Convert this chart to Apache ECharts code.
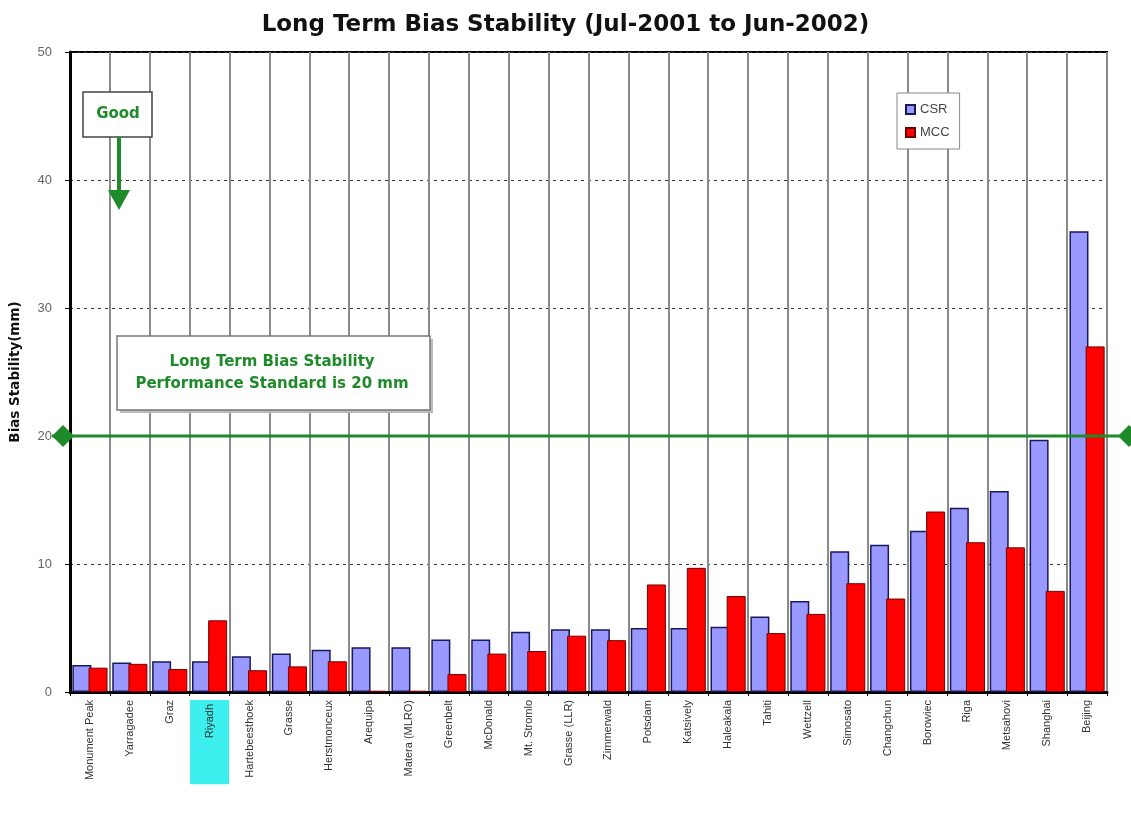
<!DOCTYPE html>
<html><head><meta charset="utf-8">
<script src="https://cdn.jsdelivr.net/npm/echarts@6/dist/echarts.min.js"></script>
<style>html,body{margin:0;padding:0;background:#fff}#c{width:1131px;height:818px}</style>
</head><body><div id="c"></div>
<script>
const categories = ['Monument Peak','Yarragadee','Graz','Riyadh','Hartebeesthoek','Grasse','Herstmonceux','Arequipa','Matera (MLRO)','Greenbelt','McDonald','Mt. Stromlo','Grasse (LLR)','Zimmerwald','Potsdam','Katsively','Haleakala','Tahiti','Wettzell','Simosato','Changchun','Borowiec','Riga','Metsahovi','Shanghai','Beijing'];
const csr = [2.1,2.3,2.4,2.4,2.8,3.0,3.3,3.5,3.5,4.1,4.1,4.7,4.9,4.9,5.0,5.0,5.1,5.9,7.1,11.0,11.5,12.6,14.4,15.7,19.7,36.0];
const mcc = [1.9,2.2,1.8,5.6,1.7,2.0,2.4,0.1,0.1,1.4,3.0,3.2,4.4,4.05,8.4,9.7,7.5,4.6,6.1,8.5,7.3,14.1,11.7,11.3,7.9,27.0];
const yTicks = [0,10,20,30,40,50];
const standard = 20;
const highlighted = 'Riyadh';

const chart = echarts.init(document.getElementById('c'));
const green = '#1f8a2a';
const bold = '"DejaVu Sans", Verdana, sans-serif';
chart.setOption({
  animation: false,
  title: {text: 'Long Term Bias Stability (Jul-2001 to Jun-2002)', left: 'center', top: 9,
    textStyle: {fontFamily: bold, fontWeight: 'bold', fontSize: 23, color: '#111'}},
  grid: {left: 70, right: 24, top: 52, bottom: 126, show: true, borderColor: '#000', borderWidth: 2},
  legend: {orient: 'vertical', left: 897, top: 93, padding: [10, 10, 10, 8], itemGap: 10,
    itemWidth: 9, itemHeight: 9, borderColor: '#888', borderWidth: 1, backgroundColor: '#fff',
    textStyle: {fontFamily: 'Liberation Sans, Arial', fontSize: 13, color: '#444'},
    data: [{name: 'CSR', icon: 'rect'}, {name: 'MCC', icon: 'rect'}]},
  xAxis: {type: 'category', data: categories, boundaryGap: true,
    axisLine: {lineStyle: {color: '#000', width: 3}},
    axisTick: {show: true, length: 4, lineStyle: {color: '#000'}},
    splitLine: {show: true, lineStyle: {color: '#8a8a8a', width: 2}},
    axisLabel: {rotate: 90, interval: 0, fontFamily: 'Liberation Sans, Arial', fontSize: 11, color: '#333', margin: 8,
      formatter: v => v === highlighted ? '{hl|' + v + '}' : v,
      rich: {hl: {backgroundColor: '#3ceeee', padding: [14, 4, 14, 46], fontSize: 11, color: '#333', fontFamily: 'Liberation Sans, Arial'}}}},
  yAxis: {type: 'value', min: yTicks[0], max: yTicks[yTicks.length-1], interval: 10,
    name: 'Bias Stability(mm)', nameLocation: 'middle', nameGap: 48,
    nameTextStyle: {fontFamily: bold, fontWeight: 'bold', fontSize: 13.5, color: '#111'},
    axisLine: {show: true, lineStyle: {color: '#000', width: 3}},
    axisTick: {show: true, length: 5, lineStyle: {color: '#000'}},
    axisLabel: {fontFamily: 'Liberation Sans, Arial', fontSize: 13, color: '#666', margin: 18},
    splitLine: {show: true, lineStyle: {color: '#333', type: [3, 4], width: 1}}},
  series: [
    {name: 'CSR', type: 'bar', data: csr, barWidth: 19, barGap: '-15%',
      itemStyle: {color: '#9999ff', borderColor: '#1a1a5a', borderWidth: 1.5}},
    {name: 'MCC', type: 'bar', data: mcc, barWidth: 19,
      itemStyle: {color: '#ff0000', borderColor: '#700000', borderWidth: 1}}
  ]
});

const y20 = chart.convertToPixel({yAxisIndex: 0}, standard);
chart.setOption({graphic: [
  {type: 'line', shape: {x1: 52, y1: y20, x2: 1131, y2: y20}, style: {stroke: green, lineWidth: 3}, z: 10},
  {type: 'polygon', shape: {points: [[52, y20], [63, y20-11], [74, y20], [63, y20+11]]}, style: {fill: green}, z: 11},
  {type: 'polygon', shape: {points: [[1118, y20], [1129, y20-11], [1140, y20], [1129, y20+11]]}, style: {fill: green}, z: 11},
  {type: 'rect', shape: {x: 83, y: 92, width: 69, height: 45}, style: {fill: '#fff', stroke: '#444', lineWidth: 1.5}, z: 12},
  {type: 'text', x: 118, y: 114.5, style: {text: 'Good', fill: green, font: 'bold 15px "DejaVu Sans", Verdana', align: 'center', verticalAlign: 'middle'}, z: 13},
  {type: 'line', shape: {x1: 119, y1: 137, x2: 119, y2: 195}, style: {stroke: green, lineWidth: 4}, z: 12},
  {type: 'polygon', shape: {points: [[108, 190], [130, 190], [119, 210]]}, style: {fill: green}, z: 12},
  {type: 'rect', shape: {x: 120, y: 339, width: 313, height: 74}, style: {fill: '#bbb'}, z: 11},
  {type: 'rect', shape: {x: 117, y: 336, width: 313, height: 74}, style: {fill: '#fff', stroke: '#777', lineWidth: 1.5}, z: 12},
  {type: 'text', x: 272, y: 362, style: {text: 'Long Term Bias Stability', fill: green, font: 'bold 15px "DejaVu Sans", Verdana', align: 'center', verticalAlign: 'middle'}, z: 13},
  {type: 'text', x: 272, y: 384, style: {text: 'Performance Standard is 20 mm', fill: green, font: 'bold 15px "DejaVu Sans", Verdana', align: 'center', verticalAlign: 'middle'}, z: 13}
]});
</script></body></html>
